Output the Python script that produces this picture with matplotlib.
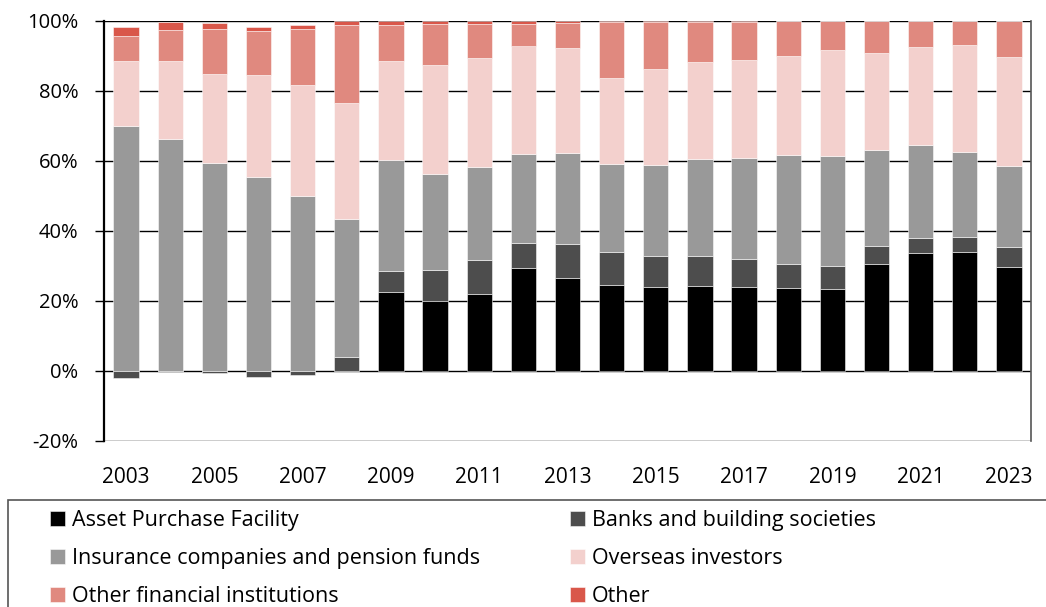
import matplotlib
matplotlib.use("Agg")
import matplotlib.pyplot as plt
from matplotlib.patches import Rectangle
import numpy as np

plt.rcParams['font.family'] = ['Open Sans', 'DejaVu Sans']

years = list(range(2003, 2024))
series_names = ["Asset Purchase Facility", "Banks and building societies",
                "Insurance companies and pension funds", "Overseas investors",
                "Other financial institutions", "Other"]
colors = ["#000000", "#4d4d4d", "#999999", "#f3d0cd", "#e0897f", "#d9574a"]

apf = [0, 0, 0, 0, 0, 0, 22.7, 20.0, 21.9, 29.3, 26.5, 24.7, 23.9, 24.4, 24.1, 23.6, 23.3, 30.7, 33.6, 33.9, 29.7]
banks = [-1.9, -0.4, -0.7, -1.7, -1.1, 4.1, 6.0, 9.0, 9.7, 7.2, 9.7, 9.4, 9.1, 8.6, 7.8, 7.1, 6.6, 4.9, 4.4, 4.3, 5.6]
insurance = [69.9, 66.4, 59.3, 55.5, 49.9, 39.2, 31.7, 27.2, 26.7, 25.6, 26.2, 25.0, 25.9, 27.6, 29.0, 30.9, 31.5, 27.5, 26.7, 24.5, 23.4]
overseas = [18.8, 22.2, 25.6, 29.0, 31.7, 33.2, 28.3, 31.2, 31.2, 30.9, 30.0, 24.7, 27.4, 27.8, 28.0, 28.5, 30.3, 27.8, 28.0, 30.5, 31.1]
ofi = [7.1, 8.9, 12.8, 12.7, 16.2, 22.4, 10.2, 11.8, 9.7, 6.2, 7.1, 15.9, 13.4, 11.4, 10.9, 9.8, 8.2, 9.0, 7.2, 6.7, 10.1]
other = [2.4, 2.1, 1.6, 1.1, 1.1, 1.1, 1.1, 0.8, 0.8, 0.8, 0.5, 0.3, 0.3, 0.2, 0.2, 0.1, 0.1, 0.1, 0.1, 0.1, 0.1]

yticks = [-20, 0, 20, 40, 60, 80, 100]
ytick_labels = ["-20%", "0%", "20%", "40%", "60%", "80%", "100%"]
xtick_years = list(range(2003, 2024, 2))

fig = plt.figure(figsize=(10.46, 6.07), dpi=100)
ax = fig.add_axes([104/1046, 1-441/607, (1031-104)/1046, (441-21)/607])

x = np.array(years)
data = [apf, banks, insurance, overseas, ofi, other]
pos_base = np.zeros(len(years))
neg_base = np.zeros(len(years))
handles = []
for vals, col, name in zip(data, colors, series_names):
    v = np.array(vals, dtype=float)
    bottoms = np.where(v >= 0, pos_base, neg_base)
    h = ax.bar(x, v, bottom=bottoms, width=0.57, color=col, edgecolor=(1, 1, 1, 0.6),
               linewidth=0.6, label=name, zorder=3)
    handles.append(h)
    pos_base = pos_base + np.where(v >= 0, v, 0)
    neg_base = neg_base + np.where(v < 0, v, 0)

ax.set_xlim(2002.5, 2023.5)
ax.set_ylim(-20, 100)
ax.set_yticks(yticks)
ax.set_yticklabels(ytick_labels)
ax.set_xticks(xtick_years)
ax.set_xticklabels([str(y) for y in xtick_years])
ax.yaxis.grid(True, color="black", linewidth=1.0, zorder=0)
ax.set_axisbelow(True)
ax.tick_params(axis='y', length=6.5, width=1.0, color='black', labelsize=14.5, pad=12)
ax.tick_params(axis='x', length=0, labelsize=15, pad=19)
ax.spines['left'].set_linewidth(1.6)
ax.spines['left'].set_color('black')
ax.spines['top'].set_visible(False)
ax.spines['bottom'].set_visible(False)
ax.spines['right'].set_color('#555555')
ax.spines['right'].set_linewidth(1.2)

# legend frame (extends beyond figure edge, as in the reference)
fig.patches.append(Rectangle((8/1046, -0.2), 1.2, 0.2 + (607-500)/607, transform=fig.transFigure,
                             fill=False, edgecolor='#555555', linewidth=1.2))

order = [0, 2, 4, 1, 3, 5]
leg = fig.legend([handles[i] for i in order], [series_names[i] for i in order],
                 ncol=2, loc='upper left', bbox_to_anchor=(50/1046, 1-510/607),
                 frameon=False, fontsize=15.5, handlelength=0.7, handleheight=0.7,
                 handletextpad=0.33, columnspacing=4.15, labelspacing=0.8,
                 borderaxespad=0, borderpad=0)

fig.savefig("out.png", dpi=100)
